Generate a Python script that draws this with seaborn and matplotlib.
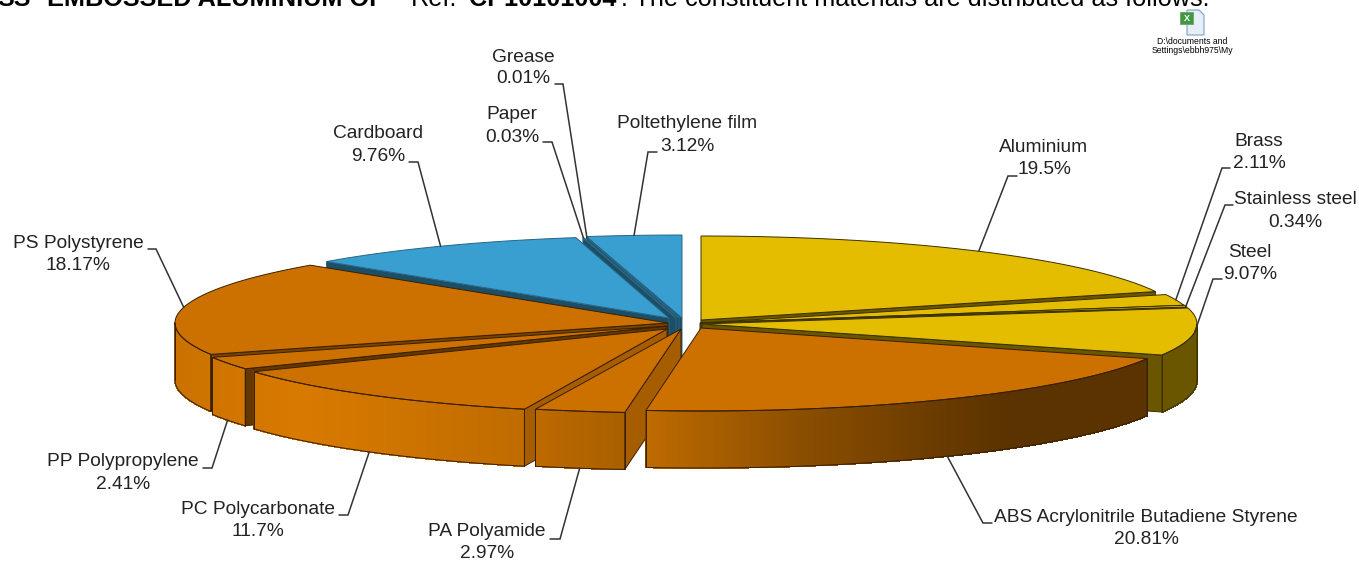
import numpy as np
import matplotlib
matplotlib.use("Agg")
import matplotlib.pyplot as plt
import seaborn as sns

# ---- data ----
materials = ["Aluminium", "Brass", "Stainless steel", "Steel",
             "ABS Acrylonitrile Butadiene Styrene", "PA Polyamide", "PC Polycarbonate",
             "PP Polypropylene", "PS Polystyrene", "Cardboard", "Paper", "Grease",
             "Poltethylene film"]
percent = [19.5, 2.11, 0.34, 9.07, 20.81, 2.97, 11.7, 2.41, 18.17, 9.76, 0.03, 0.01, 3.12]
percent_text = ["19.5%", "2.11%", "0.34%", "9.07%", "20.81%", "2.97%", "11.7%", "2.41%",
                "18.17%", "9.76%", "0.03%", "0.01%", "3.12%"]
family = [0, 0, 0, 0, 1, 1, 1, 1, 1, 2, 2, 2, 2]

# ---- style / layout (pixels) ----
apex_x = [701, 700, 701, 702, 701, 681, 667, 667, 668, 669, 676, 679, 682]
apex_y = [320, 323, 323, 324, 328, 329, 329, 326, 323, 318, 318, 318, 318]
radius_x = [483, 495, 495, 495, 480, 490, 480, 490, 493, 472, 472, 472, 490]
radius_y = [84, 84, 84, 84, 83, 84, 84, 84, 84, 82, 82, 82, 83]
depth = 57
draw_order = [12, 11, 10, 9, 0, 1, 2, 3, 8, 7, 6, 5, 4]
label_x = [1044, 1259, 1295, 1250, 1146, 487, 258, 123, 78, 378, 512, 523, 687]
label_y1 = [147, 141, 199, 252, 517, 532, 509, 461, 243, 133, 114, 57, 123]
label_y2 = [169, 163, 222, 274, 539, 554, 531, 484, 265, 156, 137, 78, 146]
leader_start = [(1017, 176), (1230, 168), (1233, 205), (1222, 279), (992, 523), (550, 539),
                (339, 515), (203, 468), (148, 249), (409, 162), (543, 142), (555, 84), (657, 152)]
leader_elbow = [(1008, 176), (1222, 168), (1225, 205), (1213, 279), (983, 523), (560, 539),
                (348, 515), (212, 468), (156, 249), (418, 162), (552, 142), (563, 84), (648, 152)]

sns.set_theme(style="white")
plt.rcParams["font.family"] = ["Liberation Sans", "DejaVu Sans"]
top_colors = sns.color_palette(["#e4bc00", "#cc7000", "#389fd0"])
wall_colors = sns.color_palette(["#6a5500", "#d97a00", "#1c4e66"])
edge_colors = ["#3a3000", "#3a2000", "#2a6585"]
shade_x = [176, 300, 524, 625, 645, 800, 1000, 1148]
shade_v = [0.93, 1.0, 0.88, 0.78, 0.88, 0.64, 0.42, 0.42]
radial_dark = {1: 0.80, 5: 0.76, 6: 0.76, 7: 0.45, 8: 0.55, 4: 0.5}

fig = plt.figure(figsize=(13.59, 5.61), dpi=100)
ax = fig.add_axes([0, 0, 1, 1])
ax.set_xlim(0, 1359)
ax.set_ylim(561, 0)
ax.axis("off")

edges = np.concatenate([[0], np.cumsum(percent)]) / np.sum(percent) * 360.0


def arc(i, t):
    r = np.radians(t)
    return apex_x[i] + radius_x[i] * np.sin(r), apex_y[i] - radius_y[i] * np.cos(r)


def radial_wall(i, t, color, edge):
    x, y = arc(i, t)
    ax.fill([apex_x[i], x, x, apex_x[i]],
            [apex_y[i], y, y + depth, apex_y[i] + depth],
            facecolor=color, edgecolor=edge, lw=0.7)


for i in draw_order:
    t0, t1 = edges[i], edges[i + 1]
    f = family[i]
    edge = edge_colors[f]
    base = wall_colors[f]
    rad = base if f != 1 else tuple(c * radial_dark.get(i, 0.6) for c in base)
    # radial side faces that turn toward the viewer
    if np.sin(np.radians(t0)) < 0 and t0 != 0:
        radial_wall(i, t0, rad, edge)
    if np.sin(np.radians(t1)) > 0:
        radial_wall(i, t1, rad, edge)
    # outer rim, shaded segment by segment
    a, b = max(t0, 90), min(t1, 270)
    if b > a:
        ts = np.linspace(a, b, max(int((b - a) * 3), 2) + 1)
        for u, v in zip(ts[:-1], ts[1:]):
            xu, yu = arc(i, u)
            xv, yv = arc(i, v)
            s = 1.0 if f != 1 else float(np.interp((xu + xv) / 2, shade_x, shade_v))
            col = tuple(c * s for c in base)
            ax.fill([xu, xv, xv, xu], [yu, yv, yv + depth, yu + depth],
                    facecolor=col, edgecolor=col, lw=0.6, antialiased=False)
        xs, ys = arc(i, ts)
        ax.plot(np.r_[xs, xs[::-1], xs[0]], np.r_[ys + depth, ys[::-1], ys[0] + depth],
                color=edge, lw=0.7, solid_joinstyle="miter")
        for t_end in (a, b):
            xe, ye = arc(i, t_end)
            ax.plot([xe, xe], [ye, ye + depth], color=edge, lw=0.7)
    # top face
    ts = np.linspace(t0, t1, max(int(t1 - t0) * 2, 2) + 1)
    xs, ys = arc(i, ts)
    ax.fill(np.r_[apex_x[i], xs], np.r_[apex_y[i], ys],
            facecolor=top_colors[f], edgecolor=edge, lw=0.7, joinstyle="miter")

# leaders and labels
for i, name in enumerate(materials):
    mid = (edges[i] + edges[i + 1]) / 2
    ax_x, ax_y = arc(i, mid)
    if np.cos(np.radians(mid)) < -0.2:
        ax_y += depth
    ax.plot([leader_start[i][0], leader_elbow[i][0], ax_x],
            [leader_start[i][1], leader_elbow[i][1], ax_y],
            color="#333333", lw=1.1, solid_joinstyle="miter")
    ax.text(label_x[i], label_y1[i], name, ha="center", va="center", fontsize=13.8, color="#222222")
    ax.text(label_x[i], label_y2[i], percent_text[i], ha="center", va="center", fontsize=13.8, color="#222222")

# cropped sentence from the page above the chart
ax.text(-3, 6, "SS", fontsize=18.2, fontweight="bold", color="black", va="baseline")
ax.text(47, 6, "EMBOSSED ALUMINIUM OF", fontsize=18.2, fontweight="bold", color="black", va="baseline")
ax.text(411, 6, "Ref.", fontsize=18.2, color="black", va="baseline")
ax.text(469, 6, "CP10101004", fontsize=18.2, fontweight="bold", color="black", va="baseline")
ax.text(621, 6, ". The constituent materials are distributed as follows:", fontsize=18.2, color="black", va="baseline")

# embedded spreadsheet icon
ax.fill([1187, 1199, 1204, 1204, 1187], [10, 10, 15, 35, 35], facecolor="#e6eef8", edgecolor="#7f9fc4", lw=0.8)
ax.fill([1180, 1193, 1193, 1180], [12, 12, 24, 24], facecolor="#3f9a3f", edgecolor="#6f9f6f", lw=0.6)
ax.text(1186.5, 18, "X", fontsize=6.5, fontweight="bold", color="white", ha="center", va="center")
ax.text(1192, 41, r"D:\documents and", fontsize=6.2, color="black", ha="center", va="center")
ax.text(1192, 50.5, r"Settings\ebbh975\My", fontsize=6.2, color="black", ha="center", va="center")

fig.savefig("out.png", dpi=100, facecolor="white")
